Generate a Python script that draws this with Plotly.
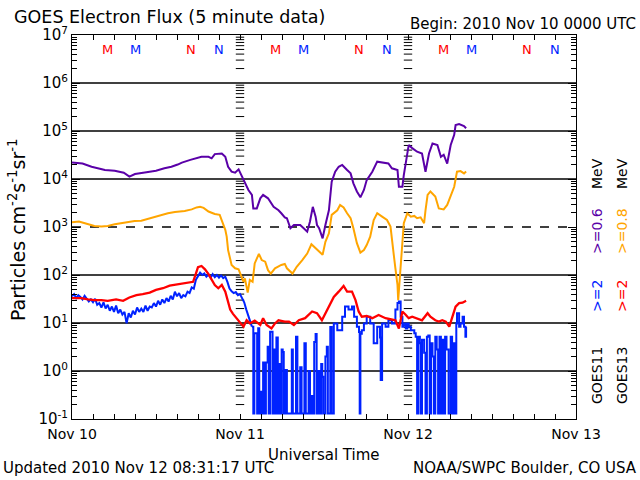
import plotly.graph_objects as go

# ---- data: hours since 2010-11-10 00:00 UTC ----
g11_lo_h = [0, 1.5, 2.8, 3.7, 4.7, 6.1, 7.4, 8.2, 9.0, 10.4, 12.0, 13.2, 14.2, 15.1, 15.7, 16.9, 17.8, 18.5, 19.5, 19.95,
            20.4, 21.4, 21.9, 22.3, 22.8, 23.3, 23.8, 24.2, 24.7, 25.2, 25.7, 25.9, 26.4, 26.9, 27.3, 28.0, 28.8, 29.5, 29.9, 30.4,
            30.7, 31.2, 31.7, 32.6, 33.1, 33.6, 34.0, 34.4, 34.8, 35.0, 35.3, 35.6, 35.8, 36.2, 36.7, 37.1, 37.6, 38.1, 38.6, 39.3,
            39.8, 40.2, 40.7, 41.2, 41.7, 42.1, 42.9, 43.6, 44.3, 45.2, 45.7, 46.5, 46.7, 47.2, 47.4, 47.7, 47.9, 48.1, 48.6, 49.3,
            50.0, 50.5, 51.0, 51.5, 52.2, 52.7, 53.1, 53.6, 54.1, 54.6, 54.8, 55.3, 56.0, 56.3]
g11_lo = [22000, 21000, 18000, 16700, 15400, 14900, 13500, 11200, 12700, 13700, 14900, 16700, 18000, 20000, 22000, 25000, 27000, 29000, 29000, 27000,
          33000, 34000, 29000, 18000, 14200, 13500, 15900, 12100, 8100, 5900, 4650, 2440, 2440, 3960, 4650, 3960, 2630, 2230, 1930, 1590,
          1520, 940, 1100, 1100, 940, 800, 1300, 2630, 1640, 1100, 940, 680, 580, 1100, 2230, 8800, 14200, 18000, 19600, 15400,
          13100, 8100, 5500, 4150, 5900, 9500, 14200, 23000, 22000, 21000, 16700, 15400, 6900, 6900, 12100, 25000, 40000, 51000, 44000, 37000,
          34000, 14200, 34000, 55000, 51000, 29000, 32000, 21000, 51000, 83000, 133000, 140000, 127000, 114000]

g13_lo_h = [0, 1.0, 1.6, 2.3, 3.2, 4.2, 5.1, 6.1, 7.0, 8.0, 8.95, 9.9, 10.9, 11.8, 12.8, 13.7, 14.7, 16.1, 17.1, 17.8,
            18.3, 18.8, 19.5, 20.4, 21.1, 21.4, 21.9, 22.1, 22.3, 22.8, 23.3, 23.8, 24.2, 24.5, 24.7, 25.1, 25.4, 25.8, 26.1, 26.7,
            27.1, 27.6, 28.0, 28.4, 29.0, 29.9, 30.4, 30.7, 31.5, 32.1, 32.9, 33.6, 34.2, 34.8, 35.2, 35.8, 36.2, 36.7, 37.1, 37.9,
            38.3, 38.8, 39.3, 39.8, 40.2, 40.7, 41.2, 41.7, 42.1, 42.6, 43.1, 43.6, 44.3, 45.0, 45.5, 45.76, 46.0, 46.2, 46.5, 46.6,
            46.8, 46.95, 47.2, 47.4, 47.9, 48.4, 48.9, 49.3, 49.8, 50.3, 50.5, 50.8, 51.2, 51.9, 52.4, 53.1, 53.6, 54.1, 54.6, 55.0,
            55.5, 56.0, 56.3]
g13_lo = [1250, 1300, 1230, 1140, 1050, 1020, 1050, 1140, 1200, 1270, 1330, 1350, 1490, 1640, 1790, 1930, 2050, 2150, 2330, 2560,
          2630, 2500, 2100, 1870, 1790, 1400, 870, 630, 330, 162, 138, 131, 92, 72, 85, 43, 79, 72, 174, 275,
          205, 190, 126, 107, 138, 162, 170, 138, 107, 148, 205, 280, 436, 363, 330, 263, 490, 740, 1790, 2230,
          2880, 2560, 1930, 1520, 940, 460, 292, 330, 420, 630, 1400, 1930, 1640, 1400, 1020, 540, 240, 138, 62, 30,
          68, 126, 460, 1200, 1930, 1640, 1700, 1520, 1590, 1200, 2230, 4650, 5500, 4300, 2440, 2330, 2880, 4300, 6900, 14200,
          14600, 13100, 14400]

g13_hi_h = [0, 1.3, 2.3, 3.2, 4.2, 5.1, 6.3, 7.3, 8.2, 9.2, 10.1, 11.1, 12.0, 13.0, 13.95, 14.9, 15.7, 16.6, 17.3, 17.7,
            18.0, 18.5, 19.0, 19.5, 20.0, 20.4, 20.9, 21.4, 21.9, 22.3, 22.6, 23.0, 23.5, 24.0, 24.5, 24.95, 25.4, 26.1, 26.9, 27.3,
            27.8, 28.5, 29.0, 29.5, 30.4, 31.0, 31.7, 32.4, 33.3, 34.3, 35.0, 35.7, 36.4, 36.9, 37.4, 38.1, 38.8, 39.3, 40.0, 40.5,
            40.95, 41.4, 42.1, 42.9, 43.8, 44.8, 45.7, 46.2, 46.7, 47.2, 47.7, 48.1, 48.6, 49.3, 50.0, 50.8, 51.2, 51.9, 52.4, 52.9,
            53.4, 53.9, 54.3, 54.8, 55.3, 55.8, 56.3]
g13_hi = [33, 33, 31, 30, 30, 29, 31, 29, 34, 38, 40, 43, 49, 53, 60, 63, 64, 69, 72, 107,
          145, 154, 131, 104, 79, 62, 53, 62, 45, 26, 19, 15.5, 12.6, 9.8, 8.4, 11.4, 9.8, 11.2, 9.1, 12.6,
          9.1, 7.7, 9.8, 11.4, 10.7, 10.7, 9.1, 11.4, 12.6, 17.4, 16, 11.4, 18.7, 26, 35, 45, 59, 45, 45, 30,
          17.4, 13.5, 14, 12.6, 14.7, 12.6, 12, 11.4, 7.7, 17.4, 14.7, 12.6, 13.5, 12.6, 11.4, 16, 13.5, 11.4, 10.7, 11.4,
          10.7, 8.4, 12.6, 22, 26, 26.5, 29]

g11_hi_h = [0, 0.3, 0.6, 0.9, 1.2, 1.5, 1.8, 2.1, 2.4, 2.7, 3.0, 3.3, 3.6, 3.9, 4.2, 4.5, 4.8, 5.1, 5.4, 5.7,
            6.0, 6.3, 6.6, 6.9, 7.2, 7.5, 7.8, 8.1, 8.4, 8.7, 9.0, 9.3, 9.6, 9.9, 10.2, 10.5, 10.8, 11.1, 11.4, 11.7,
            12.0, 12.3, 12.6, 12.9, 13.2, 13.5, 13.8, 14.1, 14.4, 14.7, 15.0, 15.3, 15.6, 15.9, 16.2, 16.5, 16.8, 17.1, 17.4, 17.7,
            18.0, 18.3, 18.6, 18.9, 19.2, 19.5, 19.8, 20.1, 20.4, 20.7, 21.0, 21.3, 21.6, 21.9, 22.2, 22.5, 22.8, 23.1, 23.4, 23.7,
            24.0, 24.3, 24.6, 24.9, 25.2, 25.5, 25.7,
            25.9, 26.05, 26.3, 26.45, 26.6, 26.75, 26.95, 27.1, 27.3, 27.45, 27.7, 27.95, 28.1, 28.3, 28.5, 28.65, 28.85, 29.0, 29.2, 29.4,
            29.6, 29.75, 29.95, 30.1, 30.25, 30.5, 30.7, 31.0, 31.4, 31.55, 32.0, 32.2, 32.6, 32.8, 33.2, 33.4, 33.8, 34.0, 34.2, 34.35,
            34.6, 34.8, 34.95, 35.2, 35.4, 35.6, 35.75, 35.9, 36.2, 36.4, 36.55, 36.9, 37.1, 37.4,
            37.9, 38.3, 38.6, 39.0, 39.5, 40.0, 40.3, 40.7, 41.0, 41.1, 41.2, 41.4, 41.7, 42.1, 42.6, 43.1, 43.6, 44.0, 44.1, 44.3,
            44.8, 45.2, 45.7, 46.2, 46.5, 46.7, 46.95, 47.2, 47.4, 47.7, 47.9, 48.1, 48.4, 48.9, 49.1, 49.3, 49.5, 49.7, 49.85, 50.0,
            50.3, 50.5, 50.7, 50.9, 51.1, 51.3, 51.5, 51.7, 51.9, 52.1, 52.3, 52.5, 52.7, 52.9, 53.1, 53.3, 53.5, 53.8, 54.1, 54.3,
            54.5, 54.7, 54.9, 55.0, 55.3, 55.5, 55.8, 56.0, 56.2, 56.3]
g11_hi = [36, 40, 33, 38, 35, 31, 37, 33, 28, 31, 27, 32, 24, 26, 21, 27, 20, 24, 18, 22,
          17, 23, 16, 19, 15, 17, 9.8, 16, 13, 18, 15, 21, 17, 20, 17, 23, 18, 22, 21, 26,
          22, 29, 24, 31, 26, 33, 28, 37, 31, 45, 36, 42, 33, 38, 36, 45, 42, 55, 52, 80,
          98, 112, 100, 108, 92, 102, 88, 104, 90, 100, 88, 98, 86, 92, 72, 52, 46, 42, 44, 38,
          40, 33, 27, 19, 14, 10, 8.4,
          0.13, 6.1, 6.1, 0.13, 7.8, 0.13, 0.37, 0.13, 1.5, 0.13, 1.5, 3.2, 0.13, 6.6, 6.6, 0.13, 2.8, 0.13, 5.0, 0.13,
          1.4, 0.13, 2.8, 2.5, 0.13, 1.05, 0.13, 0.13, 2.8, 0.13, 5.2, 0.13, 1.2, 0.13, 3.8, 0.13, 1.0, 0.13, 0.3, 0.13,
          4.0, 5.9, 0.13, 1.0, 0.13, 1.4, 0.76, 0.13, 2.0, 3.2, 0.13, 8.3, 0.13, 9.8,
          7.1, 7.1, 13.5, 22, 19, 22, 13.5, 8.4, 6.5, 0.13, 6.0, 7.1, 9.8, 13.5, 9.8, 3.8, 8.4, 5.0, 0.65, 9.8,
          8.4, 11.4, 9.8, 19, 26, 28, 13.5, 8.4, 9.8, 7.7, 9.8, 8.4, 7.1, 6.1, 5.2, 0.13, 5.2, 3.8, 0.13, 4.5,
          2.4, 0.13, 5.2, 5.5, 0.13, 3.8, 2.0, 0.13, 5.2, 2.8, 0.13, 5.2, 0.13, 4.5, 0.13, 5.2, 2.8, 0.13, 5.2, 0.13,
          3.8, 0.13, 9.8, 16, 8.4, 9.8, 13.5, 8.4, 5.2, 8.4]
g11_hi_dropout_start = 25.7   # from here on the >=2 MeV channel has data dropouts

day_ticks = [0, 24, 48, 72]
day_labels = ["Nov 10", "Nov 11", "Nov 12", "Nov 13"]
decades = [-1, 0, 1, 2, 3, 4, 5, 6, 7]
dashed_decade = 3
# local midnight (M) / noon (N) markers: GOES13 red, GOES11 blue (hours)
mn_hours = [5, 9, 17, 21, 29, 33, 41, 45, 53, 57, 65, 69]
mn_text = ["M", "M", "N", "N"] * 3
mn_color = ["#ff0000", "#0022ff", "#ff0000", "#0022ff"] * 3

PURPLE = "#5a00a8"
ORANGE = "#ffa500"
BLUE = "#0022ff"
RED = "#ff0000"
FONT = "DejaVu Sans"

W, H = 640, 480
L, R, T, B = 72, 576, 35, 419          # plot box in pixels
def px(x):
    return (x - L) / (R - L)
def py(y):
    return (B - y) / (B - T)

minor_vals = [m * 10 ** k for k in range(-1, 7) for m in range(2, 10)]

fig = go.Figure()

for d in decades[1:-1]:
    fig.add_trace(go.Scatter(x=[0, 72], y=[10 ** d, 10 ** d], mode="lines",
                             line=dict(color="black", width=1.5, dash="dash" if d == dashed_decade else "solid"),
                             hoverinfo="skip", showlegend=False))
for dt in day_ticks[1:-1]:
    fig.add_trace(go.Scatter(x=[dt] * len(minor_vals), y=minor_vals, mode="markers",
                             marker=dict(symbol="line-ew", size=6, line=dict(color="black", width=1)),
                             hoverinfo="skip", showlegend=False))

fig.add_trace(go.Scatter(x=g11_lo_h, y=g11_lo, mode="lines", line=dict(color=PURPLE, width=2), showlegend=False))
fig.add_trace(go.Scatter(x=g13_lo_h, y=g13_lo, mode="lines", line=dict(color=ORANGE, width=2), showlegend=False))
cut = g11_hi_h.index(g11_hi_dropout_start)
fig.add_trace(go.Scatter(x=g11_hi_h[:cut + 1], y=g11_hi[:cut + 1], mode="lines",
                         line=dict(color=BLUE, width=2), showlegend=False))
fig.add_trace(go.Scatter(x=g11_hi_h[cut:], y=g11_hi[cut:], mode="lines",
                         line=dict(color=BLUE, width=2, shape="hv"), showlegend=False))
fig.add_trace(go.Scatter(x=g13_hi_h, y=g13_hi, mode="lines", line=dict(color=RED, width=2.3), showlegend=False))

ann = []
def add(text, x, y, size=14, color="black", xanchor="center", yanchor="middle", angle=0):
    ann.append(dict(text=text, x=x, y=y, xref="paper", yref="paper", showarrow=False,
                    xanchor=xanchor, yanchor=yanchor, textangle=angle,
                    font=dict(family=FONT, size=size, color=color)))

add("GOES Electron Flux (5 minute data)", px(12), py(17), size=17.5, xanchor="left")
add("Begin: 2010 Nov 10 0000 UTC", px(638), py(24), size=15, xanchor="right")
add("Particles cm<sup>-2</sup>s<sup>-1</sup>sr<sup>-1</sup>", px(17), py(230), size=19, angle=-90)
add("Universal Time", 0.5, py(455), size=15)
add("Updated 2010 Nov 12 08:31:17 UTC", px(1), py(468), size=15, xanchor="left")
add("NOAA/SWPC Boulder, CO USA", px(639), py(468), size=15, xanchor="right")

for h, t, c in zip(mn_hours, mn_text, mn_color):
    ann.append(dict(text=t, x=h, y=py(49), xref="x", yref="paper", showarrow=False,
                    xanchor="center", yanchor="middle",
                    font=dict(family=FONT, size=13, color=c)))

add("GOES11", px(597), py(376), size=14, angle=-90)
add("&gt;=2", px(597), py(296), size=14, color=BLUE, angle=-90)
add("&gt;=0.6", px(597), py(231), size=14, color=PURPLE, angle=-90)
add("MeV", px(597), py(174), size=14, angle=-90)
add("GOES13", px(622), py(376), size=14, angle=-90)
add("&gt;=2", px(622), py(296), size=14, color=RED, angle=-90)
add("&gt;=0.8", px(622), py(231), size=14, color=ORANGE, angle=-90)
add("MeV", px(622), py(174), size=14, angle=-90)

fig.update_layout(
    width=W, height=H, autosize=False,
    margin=dict(l=L, r=W - R, t=T, b=H - B, pad=0),
    paper_bgcolor="white", plot_bgcolor="white",
    annotations=ann, hovermode=False,
    font=dict(family=FONT, color="black"),
)
fig.update_xaxes(range=[0, 72], tickmode="array", tickvals=day_ticks, ticktext=day_labels,
                 ticks="inside", ticklen=5, tickcolor="black", showgrid=False, zeroline=False,
                 showline=True, linecolor="black", linewidth=1, mirror="ticks",
                 tickfont=dict(family=FONT, size=14), ticklabelstandoff=2,
                 minor=dict(dtick=3, tick0=0, ticks="inside", ticklen=5, tickcolor="black", showgrid=False))
fig.update_yaxes(type="log", range=[-1, 7], tickmode="array", tickvals=[10 ** d for d in decades],
                 ticktext=["10<sup>%s</sup>" % (str(d) if d >= 0 else "-" + str(-d)) for d in decades],
                 ticks="inside", ticklen=8, tickcolor="black", showgrid=False, zeroline=False,
                 showline=True, linecolor="black", linewidth=1, mirror="ticks",
                 tickfont=dict(family=FONT, size=15),
                 minor=dict(tickmode="array", tickvals=minor_vals, ticks="inside", ticklen=5,
                            tickcolor="black", showgrid=False))

fig.write_html("out.html", config={"displayModeBar": False, "staticPlot": True},
               post_script="document.body.style.margin='0';document.body.style.padding='0';"
                           "document.body.style.overflow='hidden';")
